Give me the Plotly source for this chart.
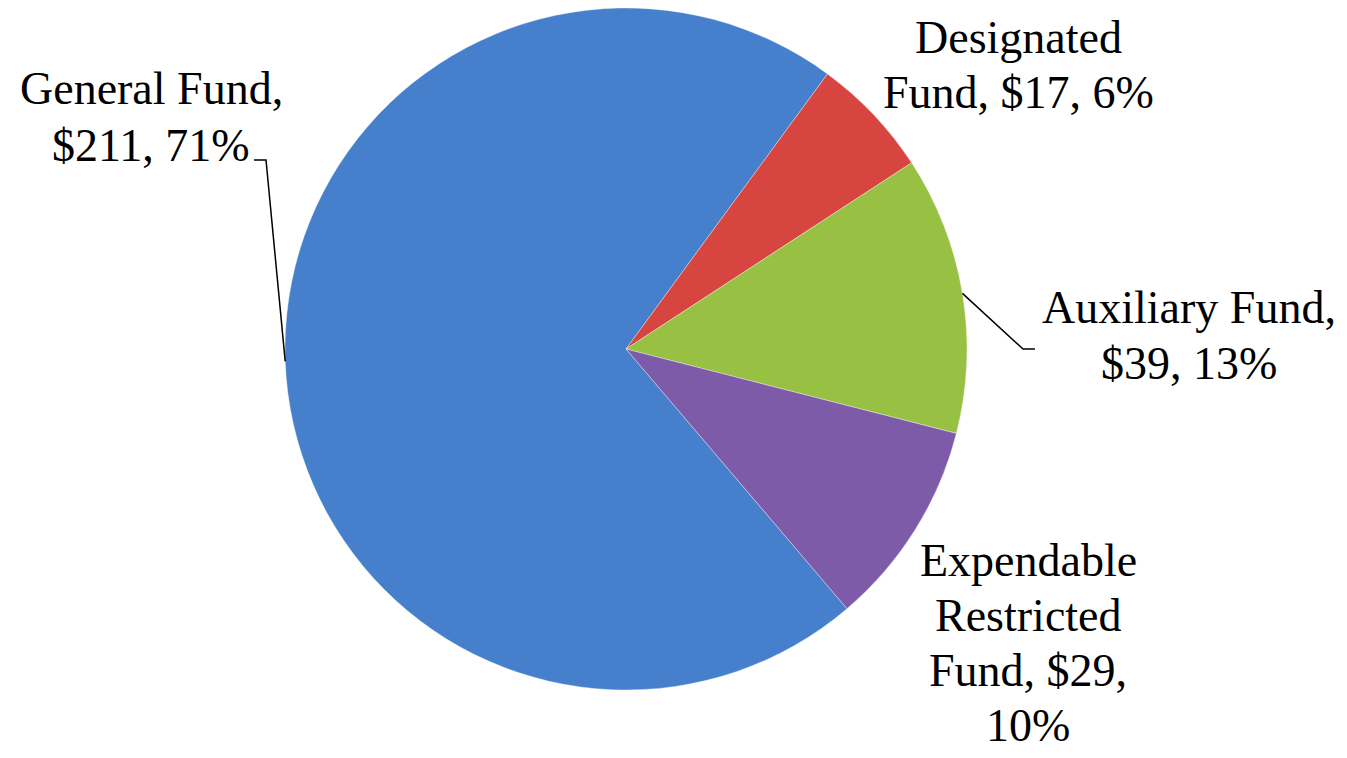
import math
import plotly.graph_objects as go

labels = ["General Fund", "Designated Fund", "Auxiliary Fund", "Expendable Restricted Fund"]
values = [211, 17, 39, 29]
label_lines = [
    ["General Fund,", "$211, 71%"],
    ["Designated", "Fund, $17, 6%"],
    ["Auxiliary Fund,", "$39, 13%"],
    ["Expendable", "Restricted", "Fund, $29,", "10%"],
]
colors = ["#4680cc", "#d64540", "#98c042", "#7e5ba9"]

W, H = 1347, 758
OFF = 8  # page body margin of the html page
cx, cy, R = 626, 349, 341
rotation = 139.6  # start angle of first slice, clockwise from 12 o'clock


def px(x):
    return (x - OFF) / W


def py(y):
    return 1 - (y - OFF) / H


fig = go.Figure(go.Pie(
    labels=labels,
    values=values,
    sort=False,
    direction="clockwise",
    rotation=rotation,
    textinfo="none",
    hoverinfo="label+value+percent",
    marker=dict(colors=colors, line=dict(color="rgba(255,255,255,0.35)", width=1)),
    domain=dict(x=[px(cx - R), px(cx + R)], y=[max(0, py(cy + R)), min(1, py(cy - R))]),
    showlegend=False,
))

# mid angles of slices (clockwise from 12 o'clock)
total = sum(values)
mids = []
acc = rotation
for v in values:
    span = 360 * v / total
    mids.append(acc + span / 2)
    acc += span


def edge(i):
    a = math.radians(mids[i])
    return cx + R * math.sin(a), cy - R * math.cos(a)


FS = 46
font = dict(family="Liberation Serif, Times New Roman, serif", size=FS, color="#000000")
shapes = []

# General Fund leader
ex, ey = edge(0)
shapes.append(dict(type="path", xref="paper", yref="paper",
                   path=f"M {px(ex)},{py(ey)} L {px(266)},{py(160)} L {px(254)},{py(160)}",
                   line=dict(color="black", width=1.5)))
# Auxiliary leader
ex, ey = edge(2)
shapes.append(dict(type="path", xref="paper", yref="paper",
                   path=f"M {px(ex)},{py(ey)} L {px(1023)},{py(349)} L {px(1035)},{py(349)}",
                   line=dict(color="black", width=1.5)))

# label placement: center x and baseline of first line, line step
placements = [
    (151, 103, 57),
    (1018, 52, 55),
    (1189, 322, 56),
    (1028, 575, 55),
]
annotations = []
for lines, (x0, b0, step) in zip(label_lines, placements):
    for k, line in enumerate(lines):
        base = b0 + k * step
        annotations.append(dict(
            text=line, x=px(x0), y=py(base - 0.31 * FS),
            xanchor="center", yanchor="middle", borderpad=0,
            xref="paper", yref="paper", showarrow=False, font=font,
        ))

fig.update_layout(
    width=W, height=H,
    margin=dict(l=0, r=0, t=0, b=0),
    paper_bgcolor="white",
    plot_bgcolor="white",
    shapes=shapes,
    annotations=annotations,
)

fig.write_html("out.html")
